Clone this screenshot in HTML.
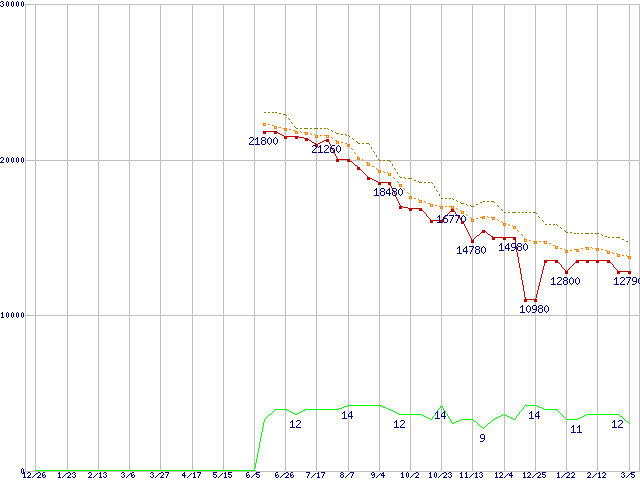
<!DOCTYPE html>
<html><head><meta charset="utf-8"><title>chart</title>
<style>html,body{margin:0;padding:0;background:#fff;overflow:hidden}svg{display:block}</style></head><body>
<svg width="640" height="480" viewBox="0 0 640 480">
<rect width="640" height="480" fill="#fff"/>
<path d="M25.5 4V472M35.5 4V472M67.5 4V472M98.5 4V472M129.5 4V472M160.5 4V472M192.5 4V472M223.5 4V472M254.5 4V472M285.5 4V472M316.5 4V472M348.5 4V472M379.5 4V472M410.5 4V472M441.5 4V472M472.5 4V472M504.5 4V472M535.5 4V472M566.5 4V472M597.5 4V472M629.5 4V472M639.5 4V472M25 4.5H640M25 160.5H640M25 315.5H640M25 471.5H640" stroke="#bfbfbf" stroke-width="1" fill="none" shape-rendering="crispEdges"/>
<path d="M1 1h2v1h-2zM0 2h1v1h-1zM3 2h1v1h-1zM2 3h1v1h-1zM3 4h1v1h-1zM0 5h1v1h-1zM3 5h1v1h-1zM1 6h2v1h-2zM7 1h1v1h-1zM6 2h1v1h-1zM8 2h1v1h-1zM6 3h1v1h-1zM8 3h1v1h-1zM6 4h1v1h-1zM8 4h1v1h-1zM6 5h1v1h-1zM8 5h1v1h-1zM7 6h1v1h-1zM12 1h1v1h-1zM11 2h1v1h-1zM13 2h1v1h-1zM11 3h1v1h-1zM13 3h1v1h-1zM11 4h1v1h-1zM13 4h1v1h-1zM11 5h1v1h-1zM13 5h1v1h-1zM12 6h1v1h-1zM17 1h1v1h-1zM16 2h1v1h-1zM18 2h1v1h-1zM16 3h1v1h-1zM18 3h1v1h-1zM16 4h1v1h-1zM18 4h1v1h-1zM16 5h1v1h-1zM18 5h1v1h-1zM17 6h1v1h-1zM22 1h1v1h-1zM21 2h1v1h-1zM23 2h1v1h-1zM21 3h1v1h-1zM23 3h1v1h-1zM21 4h1v1h-1zM23 4h1v1h-1zM21 5h1v1h-1zM23 5h1v1h-1zM22 6h1v1h-1zM1 157h2v1h-2zM0 158h1v1h-1zM3 158h1v1h-1zM3 159h1v1h-1zM2 160h1v1h-1zM1 161h1v1h-1zM0 162h4v1h-4zM7 157h1v1h-1zM6 158h1v1h-1zM8 158h1v1h-1zM6 159h1v1h-1zM8 159h1v1h-1zM6 160h1v1h-1zM8 160h1v1h-1zM6 161h1v1h-1zM8 161h1v1h-1zM7 162h1v1h-1zM12 157h1v1h-1zM11 158h1v1h-1zM13 158h1v1h-1zM11 159h1v1h-1zM13 159h1v1h-1zM11 160h1v1h-1zM13 160h1v1h-1zM11 161h1v1h-1zM13 161h1v1h-1zM12 162h1v1h-1zM17 157h1v1h-1zM16 158h1v1h-1zM18 158h1v1h-1zM16 159h1v1h-1zM18 159h1v1h-1zM16 160h1v1h-1zM18 160h1v1h-1zM16 161h1v1h-1zM18 161h1v1h-1zM17 162h1v1h-1zM22 157h1v1h-1zM21 158h1v1h-1zM23 158h1v1h-1zM21 159h1v1h-1zM23 159h1v1h-1zM21 160h1v1h-1zM23 160h1v1h-1zM21 161h1v1h-1zM23 161h1v1h-1zM22 162h1v1h-1zM2 312h1v1h-1zM1 313h2v1h-2zM2 314h1v1h-1zM2 315h1v1h-1zM2 316h1v1h-1zM1 317h3v1h-3zM7 312h1v1h-1zM6 313h1v1h-1zM8 313h1v1h-1zM6 314h1v1h-1zM8 314h1v1h-1zM6 315h1v1h-1zM8 315h1v1h-1zM6 316h1v1h-1zM8 316h1v1h-1zM7 317h1v1h-1zM12 312h1v1h-1zM11 313h1v1h-1zM13 313h1v1h-1zM11 314h1v1h-1zM13 314h1v1h-1zM11 315h1v1h-1zM13 315h1v1h-1zM11 316h1v1h-1zM13 316h1v1h-1zM12 317h1v1h-1zM17 312h1v1h-1zM16 313h1v1h-1zM18 313h1v1h-1zM16 314h1v1h-1zM18 314h1v1h-1zM16 315h1v1h-1zM18 315h1v1h-1zM16 316h1v1h-1zM18 316h1v1h-1zM17 317h1v1h-1zM22 312h1v1h-1zM21 313h1v1h-1zM23 313h1v1h-1zM21 314h1v1h-1zM23 314h1v1h-1zM21 315h1v1h-1zM23 315h1v1h-1zM21 316h1v1h-1zM23 316h1v1h-1zM22 317h1v1h-1zM22 468h1v1h-1zM21 469h1v1h-1zM23 469h1v1h-1zM21 470h1v1h-1zM23 470h1v1h-1zM21 471h1v1h-1zM23 471h1v1h-1zM21 472h1v1h-1zM23 472h1v1h-1zM22 473h1v1h-1zM24 472h1v1h-1zM23 473h2v1h-2zM24 474h1v1h-1zM24 475h1v1h-1zM24 476h1v1h-1zM23 477h3v1h-3zM28 472h2v1h-2zM27 473h1v1h-1zM30 473h1v1h-1zM30 474h1v1h-1zM29 475h1v1h-1zM28 476h1v1h-1zM27 477h4v1h-4zM36 473h1v1h-1zM35 474h1v1h-1zM34 475h1v1h-1zM33 476h1v1h-1zM32 477h1v1h-1zM38 472h2v1h-2zM37 473h1v1h-1zM40 473h1v1h-1zM40 474h1v1h-1zM39 475h1v1h-1zM38 476h1v1h-1zM37 477h4v1h-4zM43 472h2v1h-2zM42 473h1v1h-1zM42 474h1v1h-1zM44 474h1v1h-1zM42 475h2v1h-2zM45 475h1v1h-1zM42 476h1v1h-1zM45 476h1v1h-1zM43 477h2v1h-2zM59 472h1v1h-1zM58 473h2v1h-2zM59 474h1v1h-1zM59 475h1v1h-1zM59 476h1v1h-1zM58 477h3v1h-3zM66 473h1v1h-1zM65 474h1v1h-1zM64 475h1v1h-1zM63 476h1v1h-1zM62 477h1v1h-1zM68 472h2v1h-2zM67 473h1v1h-1zM70 473h1v1h-1zM70 474h1v1h-1zM69 475h1v1h-1zM68 476h1v1h-1zM67 477h4v1h-4zM73 472h2v1h-2zM72 473h1v1h-1zM75 473h1v1h-1zM74 474h1v1h-1zM75 475h1v1h-1zM72 476h1v1h-1zM75 476h1v1h-1zM73 477h2v1h-2zM89 472h2v1h-2zM88 473h1v1h-1zM91 473h1v1h-1zM91 474h1v1h-1zM90 475h1v1h-1zM89 476h1v1h-1zM88 477h4v1h-4zM97 473h1v1h-1zM96 474h1v1h-1zM95 475h1v1h-1zM94 476h1v1h-1zM93 477h1v1h-1zM100 472h1v1h-1zM99 473h2v1h-2zM100 474h1v1h-1zM100 475h1v1h-1zM100 476h1v1h-1zM99 477h3v1h-3zM104 472h2v1h-2zM103 473h1v1h-1zM106 473h1v1h-1zM105 474h1v1h-1zM106 475h1v1h-1zM103 476h1v1h-1zM106 476h1v1h-1zM104 477h2v1h-2zM122 472h2v1h-2zM121 473h1v1h-1zM124 473h1v1h-1zM123 474h1v1h-1zM124 475h1v1h-1zM121 476h1v1h-1zM124 476h1v1h-1zM122 477h2v1h-2zM130 473h1v1h-1zM129 474h1v1h-1zM128 475h1v1h-1zM127 476h1v1h-1zM126 477h1v1h-1zM132 472h2v1h-2zM131 473h1v1h-1zM131 474h1v1h-1zM133 474h1v1h-1zM131 475h2v1h-2zM134 475h1v1h-1zM131 476h1v1h-1zM134 476h1v1h-1zM132 477h2v1h-2zM151 472h2v1h-2zM150 473h1v1h-1zM153 473h1v1h-1zM152 474h1v1h-1zM153 475h1v1h-1zM150 476h1v1h-1zM153 476h1v1h-1zM151 477h2v1h-2zM159 473h1v1h-1zM158 474h1v1h-1zM157 475h1v1h-1zM156 476h1v1h-1zM155 477h1v1h-1zM161 472h2v1h-2zM160 473h1v1h-1zM163 473h1v1h-1zM163 474h1v1h-1zM162 475h1v1h-1zM161 476h1v1h-1zM160 477h4v1h-4zM165 472h4v1h-4zM168 473h1v1h-1zM167 474h1v1h-1zM167 475h1v1h-1zM166 476h1v1h-1zM166 477h1v1h-1zM184 472h1v1h-1zM183 473h2v1h-2zM182 474h1v1h-1zM184 474h1v1h-1zM182 475h4v1h-4zM184 476h1v1h-1zM184 477h1v1h-1zM191 473h1v1h-1zM190 474h1v1h-1zM189 475h1v1h-1zM188 476h1v1h-1zM187 477h1v1h-1zM194 472h1v1h-1zM193 473h2v1h-2zM194 474h1v1h-1zM194 475h1v1h-1zM194 476h1v1h-1zM193 477h3v1h-3zM197 472h4v1h-4zM200 473h1v1h-1zM199 474h1v1h-1zM199 475h1v1h-1zM198 476h1v1h-1zM198 477h1v1h-1zM213 472h4v1h-4zM213 473h1v1h-1zM213 474h3v1h-3zM216 475h1v1h-1zM213 476h1v1h-1zM216 476h1v1h-1zM214 477h2v1h-2zM222 473h1v1h-1zM221 474h1v1h-1zM220 475h1v1h-1zM219 476h1v1h-1zM218 477h1v1h-1zM225 472h1v1h-1zM224 473h2v1h-2zM225 474h1v1h-1zM225 475h1v1h-1zM225 476h1v1h-1zM224 477h3v1h-3zM228 472h4v1h-4zM228 473h1v1h-1zM228 474h3v1h-3zM231 475h1v1h-1zM228 476h1v1h-1zM231 476h1v1h-1zM229 477h2v1h-2zM247 472h2v1h-2zM246 473h1v1h-1zM246 474h1v1h-1zM248 474h1v1h-1zM246 475h2v1h-2zM249 475h1v1h-1zM246 476h1v1h-1zM249 476h1v1h-1zM247 477h2v1h-2zM255 473h1v1h-1zM254 474h1v1h-1zM253 475h1v1h-1zM252 476h1v1h-1zM251 477h1v1h-1zM256 472h4v1h-4zM256 473h1v1h-1zM256 474h3v1h-3zM259 475h1v1h-1zM256 476h1v1h-1zM259 476h1v1h-1zM257 477h2v1h-2zM276 472h2v1h-2zM275 473h1v1h-1zM275 474h1v1h-1zM277 474h1v1h-1zM275 475h2v1h-2zM278 475h1v1h-1zM275 476h1v1h-1zM278 476h1v1h-1zM276 477h2v1h-2zM284 473h1v1h-1zM283 474h1v1h-1zM282 475h1v1h-1zM281 476h1v1h-1zM280 477h1v1h-1zM286 472h2v1h-2zM285 473h1v1h-1zM288 473h1v1h-1zM288 474h1v1h-1zM287 475h1v1h-1zM286 476h1v1h-1zM285 477h4v1h-4zM291 472h2v1h-2zM290 473h1v1h-1zM290 474h1v1h-1zM292 474h1v1h-1zM290 475h2v1h-2zM293 475h1v1h-1zM290 476h1v1h-1zM293 476h1v1h-1zM291 477h2v1h-2zM306 472h4v1h-4zM309 473h1v1h-1zM308 474h1v1h-1zM308 475h1v1h-1zM307 476h1v1h-1zM307 477h1v1h-1zM315 473h1v1h-1zM314 474h1v1h-1zM313 475h1v1h-1zM312 476h1v1h-1zM311 477h1v1h-1zM318 472h1v1h-1zM317 473h2v1h-2zM318 474h1v1h-1zM318 475h1v1h-1zM318 476h1v1h-1zM317 477h3v1h-3zM321 472h4v1h-4zM324 473h1v1h-1zM323 474h1v1h-1zM323 475h1v1h-1zM322 476h1v1h-1zM322 477h1v1h-1zM341 472h2v1h-2zM340 473h1v1h-1zM343 473h1v1h-1zM341 474h2v1h-2zM340 475h1v1h-1zM343 475h1v1h-1zM340 476h1v1h-1zM343 476h1v1h-1zM341 477h2v1h-2zM349 473h1v1h-1zM348 474h1v1h-1zM347 475h1v1h-1zM346 476h1v1h-1zM345 477h1v1h-1zM350 472h4v1h-4zM353 473h1v1h-1zM352 474h1v1h-1zM352 475h1v1h-1zM351 476h1v1h-1zM351 477h1v1h-1zM372 472h2v1h-2zM371 473h1v1h-1zM374 473h1v1h-1zM371 474h1v1h-1zM373 474h2v1h-2zM372 475h1v1h-1zM374 475h1v1h-1zM374 476h1v1h-1zM372 477h2v1h-2zM380 473h1v1h-1zM379 474h1v1h-1zM378 475h1v1h-1zM377 476h1v1h-1zM376 477h1v1h-1zM383 472h1v1h-1zM382 473h2v1h-2zM381 474h1v1h-1zM383 474h1v1h-1zM381 475h4v1h-4zM383 476h1v1h-1zM383 477h1v1h-1zM402 472h1v1h-1zM401 473h2v1h-2zM402 474h1v1h-1zM402 475h1v1h-1zM402 476h1v1h-1zM401 477h3v1h-3zM407 472h1v1h-1zM406 473h1v1h-1zM408 473h1v1h-1zM406 474h1v1h-1zM408 474h1v1h-1zM406 475h1v1h-1zM408 475h1v1h-1zM406 476h1v1h-1zM408 476h1v1h-1zM407 477h1v1h-1zM414 473h1v1h-1zM413 474h1v1h-1zM412 475h1v1h-1zM411 476h1v1h-1zM410 477h1v1h-1zM416 472h2v1h-2zM415 473h1v1h-1zM418 473h1v1h-1zM418 474h1v1h-1zM417 475h1v1h-1zM416 476h1v1h-1zM415 477h4v1h-4zM430 472h1v1h-1zM429 473h2v1h-2zM430 474h1v1h-1zM430 475h1v1h-1zM430 476h1v1h-1zM429 477h3v1h-3zM435 472h1v1h-1zM434 473h1v1h-1zM436 473h1v1h-1zM434 474h1v1h-1zM436 474h1v1h-1zM434 475h1v1h-1zM436 475h1v1h-1zM434 476h1v1h-1zM436 476h1v1h-1zM435 477h1v1h-1zM442 473h1v1h-1zM441 474h1v1h-1zM440 475h1v1h-1zM439 476h1v1h-1zM438 477h1v1h-1zM444 472h2v1h-2zM443 473h1v1h-1zM446 473h1v1h-1zM446 474h1v1h-1zM445 475h1v1h-1zM444 476h1v1h-1zM443 477h4v1h-4zM449 472h2v1h-2zM448 473h1v1h-1zM451 473h1v1h-1zM450 474h1v1h-1zM451 475h1v1h-1zM448 476h1v1h-1zM451 476h1v1h-1zM449 477h2v1h-2zM461 472h1v1h-1zM460 473h2v1h-2zM461 474h1v1h-1zM461 475h1v1h-1zM461 476h1v1h-1zM460 477h3v1h-3zM466 472h1v1h-1zM465 473h2v1h-2zM466 474h1v1h-1zM466 475h1v1h-1zM466 476h1v1h-1zM465 477h3v1h-3zM473 473h1v1h-1zM472 474h1v1h-1zM471 475h1v1h-1zM470 476h1v1h-1zM469 477h1v1h-1zM476 472h1v1h-1zM475 473h2v1h-2zM476 474h1v1h-1zM476 475h1v1h-1zM476 476h1v1h-1zM475 477h3v1h-3zM480 472h2v1h-2zM479 473h1v1h-1zM482 473h1v1h-1zM481 474h1v1h-1zM482 475h1v1h-1zM479 476h1v1h-1zM482 476h1v1h-1zM480 477h2v1h-2zM496 472h1v1h-1zM495 473h2v1h-2zM496 474h1v1h-1zM496 475h1v1h-1zM496 476h1v1h-1zM495 477h3v1h-3zM500 472h2v1h-2zM499 473h1v1h-1zM502 473h1v1h-1zM502 474h1v1h-1zM501 475h1v1h-1zM500 476h1v1h-1zM499 477h4v1h-4zM508 473h1v1h-1zM507 474h1v1h-1zM506 475h1v1h-1zM505 476h1v1h-1zM504 477h1v1h-1zM511 472h1v1h-1zM510 473h2v1h-2zM509 474h1v1h-1zM511 474h1v1h-1zM509 475h4v1h-4zM511 476h1v1h-1zM511 477h1v1h-1zM524 472h1v1h-1zM523 473h2v1h-2zM524 474h1v1h-1zM524 475h1v1h-1zM524 476h1v1h-1zM523 477h3v1h-3zM528 472h2v1h-2zM527 473h1v1h-1zM530 473h1v1h-1zM530 474h1v1h-1zM529 475h1v1h-1zM528 476h1v1h-1zM527 477h4v1h-4zM536 473h1v1h-1zM535 474h1v1h-1zM534 475h1v1h-1zM533 476h1v1h-1zM532 477h1v1h-1zM538 472h2v1h-2zM537 473h1v1h-1zM540 473h1v1h-1zM540 474h1v1h-1zM539 475h1v1h-1zM538 476h1v1h-1zM537 477h4v1h-4zM542 472h4v1h-4zM542 473h1v1h-1zM542 474h3v1h-3zM545 475h1v1h-1zM542 476h1v1h-1zM545 476h1v1h-1zM543 477h2v1h-2zM558 472h1v1h-1zM557 473h2v1h-2zM558 474h1v1h-1zM558 475h1v1h-1zM558 476h1v1h-1zM557 477h3v1h-3zM565 473h1v1h-1zM564 474h1v1h-1zM563 475h1v1h-1zM562 476h1v1h-1zM561 477h1v1h-1zM567 472h2v1h-2zM566 473h1v1h-1zM569 473h1v1h-1zM569 474h1v1h-1zM568 475h1v1h-1zM567 476h1v1h-1zM566 477h4v1h-4zM572 472h2v1h-2zM571 473h1v1h-1zM574 473h1v1h-1zM574 474h1v1h-1zM573 475h1v1h-1zM572 476h1v1h-1zM571 477h4v1h-4zM588 472h2v1h-2zM587 473h1v1h-1zM590 473h1v1h-1zM590 474h1v1h-1zM589 475h1v1h-1zM588 476h1v1h-1zM587 477h4v1h-4zM596 473h1v1h-1zM595 474h1v1h-1zM594 475h1v1h-1zM593 476h1v1h-1zM592 477h1v1h-1zM599 472h1v1h-1zM598 473h2v1h-2zM599 474h1v1h-1zM599 475h1v1h-1zM599 476h1v1h-1zM598 477h3v1h-3zM603 472h2v1h-2zM602 473h1v1h-1zM605 473h1v1h-1zM605 474h1v1h-1zM604 475h1v1h-1zM603 476h1v1h-1zM602 477h4v1h-4zM622 472h2v1h-2zM621 473h1v1h-1zM624 473h1v1h-1zM623 474h1v1h-1zM624 475h1v1h-1zM621 476h1v1h-1zM624 476h1v1h-1zM622 477h2v1h-2zM630 473h1v1h-1zM629 474h1v1h-1zM628 475h1v1h-1zM627 476h1v1h-1zM626 477h1v1h-1zM631 472h4v1h-4zM631 473h1v1h-1zM631 474h3v1h-3zM634 475h1v1h-1zM631 476h1v1h-1zM634 476h1v1h-1zM632 477h2v1h-2z" fill="#00007f" shape-rendering="crispEdges"/>
<path d="M264 112h2v1h-2zM268 112h2v1h-2zM272 112h2v1h-2zM275 112h2v1h-2zM279 113h2v1h-2zM283 114h3v1h-3zM286 115h1v1h-1zM288 118h1v1h-1zM289 119h1v1h-1zM291 122h1v1h-1zM292 123h1v1h-1zM294 126h1v1h-1zM295 127h1v1h-1zM296 128h2v1h-2zM300 128h2v1h-2zM304 128h4v1h-4zM310 128h2v1h-2zM314 128h4v1h-4zM320 128h2v1h-2zM324 128h2v1h-2zM327 128h1v1h-1zM328 129h1v1h-1zM331 130h1v1h-1zM332 131h1v1h-1zM335 132h1v1h-1zM336 133h3v1h-3zM341 134h2v1h-2zM345 134h1v1h-1zM346 135h1v1h-1zM348 135h1v1h-1zM349 136h1v1h-1zM352 138h1v1h-1zM353 139h1v1h-1zM356 141h1v1h-1zM357 142h1v1h-1zM358 143h2v1h-2zM362 143h2v1h-2zM366 143h3v1h-3zM369 144h1v1h-1zM371 147h1v1h-1zM371 148h1v1h-1zM373 151h1v1h-1zM374 152h1v1h-1zM376 155h1v1h-1zM376 156h1v1h-1zM378 159h1v1h-1zM379 160h2v1h-2zM383 160h2v1h-2zM387 160h3v1h-3zM390 161h1v1h-1zM392 164h1v1h-1zM392 165h1v1h-1zM394 168h1v1h-1zM395 169h1v1h-1zM397 172h1v1h-1zM397 173h1v1h-1zM399 176h1v1h-1zM400 177h2v1h-2zM404 177h1v1h-1zM405 178h1v1h-1zM408 178h4v1h-4zM414 180h2v1h-2zM418 181h1v1h-1zM419 182h3v1h-3zM424 182h2v1h-2zM428 182h2v1h-2zM431 182h1v1h-1zM432 183h1v1h-1zM434 186h1v1h-1zM434 187h1v1h-1zM436 190h1v1h-1zM437 191h1v1h-1zM439 194h1v1h-1zM439 195h1v1h-1zM441 198h2v1h-2zM445 198h2v1h-2zM449 198h2v1h-2zM452 198h1v1h-1zM453 199h1v1h-1zM456 200h1v1h-1zM457 201h1v1h-1zM483 201h2v1h-2zM487 201h2v1h-2zM491 201h3v1h-3zM460 202h1v1h-1zM480 202h2v1h-2zM494 202h1v1h-1zM461 203h3v1h-3zM466 204h1v1h-1zM476 204h2v1h-2zM467 205h1v1h-1zM470 205h1v1h-1zM497 205h1v1h-1zM471 206h3v1h-3zM498 206h1v1h-1zM501 209h1v1h-1zM502 210h1v1h-1zM504 212h2v1h-2zM508 212h2v1h-2zM512 212h4v1h-4zM518 212h2v1h-2zM522 212h2v1h-2zM525 212h2v1h-2zM529 212h2v1h-2zM533 212h3v1h-3zM536 213h1v1h-1zM538 216h1v1h-1zM539 217h1v1h-1zM542 220h1v1h-1zM543 221h1v1h-1zM545 224h2v1h-2zM549 224h2v1h-2zM553 224h2v1h-2zM556 224h1v1h-1zM557 225h1v1h-1zM560 227h1v1h-1zM561 228h1v1h-1zM564 230h1v1h-1zM565 231h1v1h-1zM566 232h2v1h-2zM570 232h2v1h-2zM574 233h2v1h-2zM577 233h2v1h-2zM581 233h2v1h-2zM585 233h4v1h-4zM591 233h2v1h-2zM595 233h4v1h-4zM601 234h1v1h-1zM602 235h1v1h-1zM605 236h2v1h-2zM608 237h2v1h-2zM612 237h2v1h-2zM616 237h4v1h-4zM622 239h2v1h-2zM626 241h2v1h-2z" fill="#7f7f00" shape-rendering="crispEdges"/>
<path d="M263 123h3v1h-3zM263 124h1v1h-1zM265 124h1v1h-1zM268 124h2v1h-2zM263 125h3v1h-3zM272 125h2v1h-2zM274 126h3v1h-3zM274 127h1v1h-1zM276 127h1v1h-1zM279 127h2v1h-2zM274 128h3v1h-3zM283 128h4v1h-4zM284 129h1v1h-1zM286 129h1v1h-1zM289 129h2v1h-2zM284 130h3v1h-3zM293 130h2v1h-2zM295 131h3v1h-3zM300 131h1v1h-1zM295 132h1v1h-1zM297 132h1v1h-1zM301 132h1v1h-1zM304 132h4v1h-4zM295 133h3v1h-3zM305 133h1v1h-1zM307 133h1v1h-1zM310 133h1v1h-1zM305 134h3v1h-3zM311 134h1v1h-1zM314 134h1v1h-1zM315 135h3v1h-3zM320 135h2v1h-2zM324 135h5v1h-5zM315 136h1v1h-1zM317 136h1v1h-1zM326 136h1v1h-1zM328 136h1v1h-1zM315 137h3v1h-3zM326 137h3v1h-3zM331 137h1v1h-1zM332 138h1v1h-1zM335 140h2v1h-2zM336 141h3v1h-3zM336 142h1v1h-1zM338 142h1v1h-1zM341 142h2v1h-2zM336 143h3v1h-3zM345 143h2v1h-2zM347 144h3v1h-3zM347 145h1v1h-1zM349 145h1v1h-1zM347 146h3v1h-3zM351 148h1v1h-1zM352 149h1v1h-1zM354 152h1v1h-1zM355 153h1v1h-1zM357 156h1v1h-1zM357 157h3v1h-3zM357 158h1v1h-1zM359 158h1v1h-1zM357 159h3v1h-3zM362 159h1v1h-1zM363 160h1v1h-1zM366 162h2v1h-2zM367 163h3v1h-3zM367 164h1v1h-1zM369 164h1v1h-1zM367 165h3v1h-3zM372 166h2v1h-2zM376 168h1v1h-1zM377 169h1v1h-1zM378 170h3v1h-3zM378 171h1v1h-1zM380 171h1v1h-1zM383 171h1v1h-1zM378 172h3v1h-3zM384 172h1v1h-1zM387 172h1v1h-1zM388 173h3v1h-3zM388 174h1v1h-1zM390 174h1v1h-1zM388 175h3v1h-3zM393 177h1v1h-1zM394 178h1v1h-1zM397 181h1v1h-1zM398 182h1v1h-1zM399 184h3v1h-3zM399 185h1v1h-1zM401 185h1v1h-1zM399 186h3v1h-3zM403 188h1v1h-1zM404 189h1v1h-1zM407 192h1v1h-1zM408 193h1v1h-1zM409 196h3v1h-3zM409 197h1v1h-1zM411 197h1v1h-1zM409 198h3v1h-3zM414 198h2v1h-2zM418 199h1v1h-1zM419 200h3v1h-3zM419 201h1v1h-1zM421 201h1v1h-1zM424 201h1v1h-1zM419 202h3v1h-3zM425 202h1v1h-1zM428 203h2v1h-2zM430 204h3v1h-3zM430 205h1v1h-1zM432 205h1v1h-1zM435 205h2v1h-2zM430 206h3v1h-3zM439 206h4v1h-4zM445 206h2v1h-2zM449 206h5v1h-5zM440 207h1v1h-1zM442 207h1v1h-1zM451 207h1v1h-1zM453 207h1v1h-1zM440 208h3v1h-3zM451 208h3v1h-3zM456 208h1v1h-1zM457 209h1v1h-1zM460 210h1v1h-1zM461 211h3v1h-3zM461 212h1v1h-1zM463 212h1v1h-1zM461 213h3v1h-3zM466 214h1v1h-1zM467 215h1v1h-1zM482 216h3v1h-3zM487 216h1v1h-1zM470 217h1v1h-1zM480 217h3v1h-3zM484 217h1v1h-1zM488 217h1v1h-1zM491 217h4v1h-4zM471 218h1v1h-1zM476 218h2v1h-2zM482 218h3v1h-3zM492 218h1v1h-1zM494 218h1v1h-1zM471 219h3v1h-3zM492 219h3v1h-3zM497 219h1v1h-1zM471 220h1v1h-1zM473 220h1v1h-1zM498 220h1v1h-1zM471 221h3v1h-3zM501 221h1v1h-1zM502 222h1v1h-1zM503 223h3v1h-3zM503 224h1v1h-1zM505 224h1v1h-1zM508 224h1v1h-1zM503 225h3v1h-3zM509 225h1v1h-1zM512 225h1v1h-1zM513 226h3v1h-3zM513 227h1v1h-1zM515 227h1v1h-1zM513 228h3v1h-3zM517 230h1v1h-1zM518 231h1v1h-1zM521 234h1v1h-1zM522 235h1v1h-1zM524 238h1v1h-1zM524 239h3v1h-3zM524 240h1v1h-1zM526 240h1v1h-1zM529 240h2v1h-2zM524 241h3v1h-3zM533 241h4v1h-4zM539 241h2v1h-2zM543 241h4v1h-4zM534 242h1v1h-1zM536 242h1v1h-1zM544 242h1v1h-1zM546 242h1v1h-1zM534 243h3v1h-3zM544 243h3v1h-3zM549 243h2v1h-2zM553 245h2v1h-2zM555 246h3v1h-3zM555 247h1v1h-1zM557 247h1v1h-1zM585 247h4v1h-4zM591 247h1v1h-1zM555 248h3v1h-3zM560 248h2v1h-2zM581 248h2v1h-2zM586 248h1v1h-1zM588 248h1v1h-1zM592 248h1v1h-1zM595 248h4v1h-4zM564 249h1v1h-1zM574 249h5v1h-5zM586 249h3v1h-3zM596 249h1v1h-1zM598 249h1v1h-1zM601 249h2v1h-2zM565 250h3v1h-3zM570 250h2v1h-2zM576 250h1v1h-1zM578 250h1v1h-1zM596 250h3v1h-3zM605 250h2v1h-2zM565 251h1v1h-1zM567 251h1v1h-1zM576 251h3v1h-3zM607 251h3v1h-3zM565 252h3v1h-3zM607 252h1v1h-1zM609 252h1v1h-1zM612 252h1v1h-1zM607 253h3v1h-3zM613 253h1v1h-1zM616 253h1v1h-1zM617 254h3v1h-3zM617 255h1v1h-1zM619 255h1v1h-1zM622 255h2v1h-2zM626 255h1v1h-1zM617 256h3v1h-3zM627 256h4v1h-4zM628 257h1v1h-1zM630 257h1v1h-1zM628 258h3v1h-3z" fill="#ff7f00" shape-rendering="crispEdges"/>
<path d="M263 131h14v1h-14zM263 132h3v1h-3zM274 132h4v1h-4zM263 133h3v1h-3zM274 133h3v1h-3zM278 133h2v1h-2zM280 134h2v1h-2zM282 135h2v1h-2zM284 136h15v1h-15zM284 137h3v1h-3zM295 137h3v1h-3zM299 137h5v1h-5zM284 138h3v1h-3zM295 138h3v1h-3zM304 138h4v1h-4zM305 139h4v1h-4zM326 139h3v1h-3zM305 140h3v1h-3zM309 140h2v1h-2zM324 140h5v1h-5zM311 141h1v1h-1zM322 141h2v1h-2zM326 141h3v1h-3zM312 142h2v1h-2zM320 142h2v1h-2zM329 142h1v1h-1zM314 143h2v1h-2zM318 143h2v1h-2zM329 143h1v1h-1zM315 144h3v1h-3zM330 144h1v1h-1zM315 145h3v1h-3zM330 145h1v1h-1zM315 146h3v1h-3zM331 146h1v1h-1zM331 147h1v1h-1zM332 148h1v1h-1zM332 149h1v1h-1zM333 150h1v1h-1zM333 151h1v1h-1zM334 152h1v1h-1zM334 153h1v1h-1zM335 154h1v1h-1zM335 155h1v1h-1zM336 156h1v1h-1zM336 157h1v1h-1zM337 158h1v1h-1zM336 159h14v1h-14zM336 160h3v1h-3zM347 160h3v1h-3zM336 161h3v1h-3zM347 161h5v1h-5zM352 162h1v1h-1zM353 163h1v1h-1zM354 164h1v1h-1zM355 165h2v1h-2zM357 166h1v1h-1zM357 167h3v1h-3zM357 168h3v1h-3zM357 169h4v1h-4zM361 170h1v1h-1zM362 171h1v1h-1zM363 172h1v1h-1zM364 173h1v1h-1zM365 174h1v1h-1zM366 175h1v1h-1zM367 176h1v1h-1zM367 177h3v1h-3zM367 178h5v1h-5zM367 179h3v1h-3zM372 179h2v1h-2zM374 180h2v1h-2zM376 181h2v1h-2zM378 182h13v1h-13zM378 183h3v1h-3zM388 183h3v1h-3zM378 184h3v1h-3zM388 184h3v1h-3zM390 185h1v1h-1zM391 186h1v1h-1zM391 187h1v1h-1zM392 188h1v1h-1zM392 189h1v1h-1zM393 190h1v1h-1zM393 191h1v1h-1zM394 192h1v1h-1zM394 193h1v1h-1zM395 194h1v1h-1zM395 195h1v1h-1zM395 196h1v1h-1zM396 197h1v1h-1zM396 198h1v1h-1zM397 199h1v1h-1zM397 200h1v1h-1zM398 201h1v1h-1zM398 202h1v1h-1zM399 203h1v1h-1zM399 204h1v1h-1zM400 205h1v1h-1zM399 206h4v1h-4zM399 207h3v1h-3zM403 207h5v1h-5zM399 208h3v1h-3zM408 208h14v1h-14zM409 209h3v1h-3zM419 209h3v1h-3zM451 209h3v1h-3zM409 210h3v1h-3zM419 210h4v1h-4zM451 210h3v1h-3zM423 211h1v1h-1zM450 211h5v1h-5zM424 212h1v1h-1zM449 212h1v1h-1zM455 212h1v1h-1zM425 213h1v1h-1zM448 213h1v1h-1zM455 213h1v1h-1zM426 214h1v1h-1zM447 214h1v1h-1zM456 214h1v1h-1zM426 215h1v1h-1zM446 215h1v1h-1zM457 215h1v1h-1zM427 216h1v1h-1zM445 216h1v1h-1zM458 216h1v1h-1zM428 217h1v1h-1zM444 217h1v1h-1zM459 217h1v1h-1zM429 218h1v1h-1zM443 218h1v1h-1zM460 218h1v1h-1zM430 219h1v1h-1zM442 219h1v1h-1zM460 219h1v1h-1zM430 220h13v1h-13zM461 220h1v1h-1zM430 221h3v1h-3zM440 221h3v1h-3zM461 221h3v1h-3zM430 222h3v1h-3zM440 222h3v1h-3zM461 222h3v1h-3zM461 223h3v1h-3zM464 224h1v1h-1zM464 225h1v1h-1zM465 226h1v1h-1zM465 227h1v1h-1zM466 228h1v1h-1zM466 229h1v1h-1zM467 230h1v1h-1zM482 230h3v1h-3zM467 231h1v1h-1zM482 231h4v1h-4zM468 232h1v1h-1zM481 232h4v1h-4zM486 232h1v1h-1zM468 233h1v1h-1zM480 233h1v1h-1zM487 233h1v1h-1zM469 234h1v1h-1zM479 234h1v1h-1zM488 234h2v1h-2zM469 235h1v1h-1zM477 235h2v1h-2zM490 235h1v1h-1zM470 236h1v1h-1zM476 236h1v1h-1zM491 236h2v1h-2zM470 237h1v1h-1zM475 237h1v1h-1zM492 237h24v1h-24zM471 238h1v1h-1zM474 238h1v1h-1zM492 238h3v1h-3zM503 238h3v1h-3zM513 238h3v1h-3zM471 239h1v1h-1zM473 239h1v1h-1zM492 239h3v1h-3zM503 239h3v1h-3zM513 239h3v1h-3zM471 240h3v1h-3zM515 240h1v1h-1zM471 241h3v1h-3zM515 241h1v1h-1zM471 242h3v1h-3zM515 242h1v1h-1zM515 243h1v1h-1zM515 244h1v1h-1zM515 245h1v1h-1zM516 246h1v1h-1zM516 247h1v1h-1zM516 248h1v1h-1zM516 249h1v1h-1zM516 250h1v1h-1zM516 251h1v1h-1zM517 252h1v1h-1zM517 253h1v1h-1zM517 254h1v1h-1zM517 255h1v1h-1zM517 256h1v1h-1zM518 257h1v1h-1zM518 258h1v1h-1zM518 259h1v1h-1zM518 260h1v1h-1zM544 260h14v1h-14zM576 260h34v1h-34zM518 261h1v1h-1zM544 261h3v1h-3zM555 261h3v1h-3zM576 261h3v1h-3zM586 261h3v1h-3zM596 261h3v1h-3zM607 261h3v1h-3zM518 262h1v1h-1zM544 262h3v1h-3zM555 262h4v1h-4zM575 262h4v1h-4zM586 262h3v1h-3zM596 262h3v1h-3zM607 262h4v1h-4zM519 263h1v1h-1zM544 263h1v1h-1zM559 263h1v1h-1zM574 263h1v1h-1zM611 263h1v1h-1zM519 264h1v1h-1zM544 264h1v1h-1zM560 264h1v1h-1zM573 264h1v1h-1zM612 264h1v1h-1zM519 265h1v1h-1zM544 265h1v1h-1zM561 265h1v1h-1zM572 265h1v1h-1zM613 265h1v1h-1zM519 266h1v1h-1zM543 266h1v1h-1zM561 266h1v1h-1zM571 266h1v1h-1zM613 266h1v1h-1zM519 267h1v1h-1zM543 267h1v1h-1zM562 267h1v1h-1zM570 267h1v1h-1zM614 267h1v1h-1zM520 268h1v1h-1zM543 268h1v1h-1zM563 268h1v1h-1zM569 268h1v1h-1zM615 268h1v1h-1zM520 269h1v1h-1zM543 269h1v1h-1zM564 269h1v1h-1zM568 269h1v1h-1zM616 269h1v1h-1zM520 270h1v1h-1zM542 270h1v1h-1zM565 270h1v1h-1zM567 270h1v1h-1zM617 270h1v1h-1zM520 271h1v1h-1zM542 271h1v1h-1zM565 271h3v1h-3zM617 271h14v1h-14zM520 272h1v1h-1zM542 272h1v1h-1zM565 272h3v1h-3zM617 272h3v1h-3zM628 272h3v1h-3zM520 273h1v1h-1zM542 273h1v1h-1zM565 273h3v1h-3zM617 273h3v1h-3zM628 273h3v1h-3zM521 274h1v1h-1zM541 274h1v1h-1zM521 275h1v1h-1zM541 275h1v1h-1zM521 276h1v1h-1zM541 276h1v1h-1zM521 277h1v1h-1zM541 277h1v1h-1zM521 278h1v1h-1zM540 278h1v1h-1zM521 279h1v1h-1zM540 279h1v1h-1zM522 280h1v1h-1zM540 280h1v1h-1zM522 281h1v1h-1zM540 281h1v1h-1zM522 282h1v1h-1zM539 282h1v1h-1zM522 283h1v1h-1zM539 283h1v1h-1zM522 284h1v1h-1zM539 284h1v1h-1zM523 285h1v1h-1zM539 285h1v1h-1zM523 286h1v1h-1zM538 286h1v1h-1zM523 287h1v1h-1zM538 287h1v1h-1zM523 288h1v1h-1zM538 288h1v1h-1zM523 289h1v1h-1zM538 289h1v1h-1zM523 290h1v1h-1zM537 290h1v1h-1zM524 291h1v1h-1zM537 291h1v1h-1zM524 292h1v1h-1zM537 292h1v1h-1zM524 293h1v1h-1zM537 293h1v1h-1zM524 294h1v1h-1zM536 294h1v1h-1zM524 295h1v1h-1zM536 295h1v1h-1zM524 296h1v1h-1zM536 296h1v1h-1zM525 297h1v1h-1zM536 297h1v1h-1zM525 298h1v1h-1zM535 298h1v1h-1zM524 299h13v1h-13zM524 300h3v1h-3zM534 300h3v1h-3zM524 301h3v1h-3zM534 301h3v1h-3z" fill="#bf0000" shape-rendering="crispEdges"/>
<path d="M347 405h34v1h-34zM441 405h1v1h-1zM525 405h12v1h-12zM344 406h3v1h-3zM381 406h2v1h-2zM440 406h1v1h-1zM442 406h1v1h-1zM524 406h1v1h-1zM537 406h2v1h-2zM342 407h2v1h-2zM383 407h3v1h-3zM440 407h1v1h-1zM442 407h1v1h-1zM523 407h1v1h-1zM539 407h3v1h-3zM339 408h3v1h-3zM386 408h2v1h-2zM439 408h1v1h-1zM443 408h1v1h-1zM523 408h1v1h-1zM542 408h2v1h-2zM275 409h12v1h-12zM305 409h34v1h-34zM388 409h3v1h-3zM438 409h1v1h-1zM443 409h1v1h-1zM522 409h1v1h-1zM544 409h13v1h-13zM274 410h1v1h-1zM287 410h2v1h-2zM303 410h2v1h-2zM391 410h2v1h-2zM437 410h1v1h-1zM444 410h1v1h-1zM521 410h1v1h-1zM557 410h1v1h-1zM273 411h1v1h-1zM289 411h2v1h-2zM301 411h2v1h-2zM393 411h2v1h-2zM437 411h1v1h-1zM445 411h1v1h-1zM520 411h1v1h-1zM558 411h1v1h-1zM272 412h1v1h-1zM291 412h2v1h-2zM299 412h2v1h-2zM395 412h2v1h-2zM436 412h1v1h-1zM445 412h1v1h-1zM519 412h1v1h-1zM559 412h1v1h-1zM271 413h1v1h-1zM293 413h2v1h-2zM297 413h2v1h-2zM397 413h2v1h-2zM435 413h1v1h-1zM446 413h1v1h-1zM519 413h1v1h-1zM560 413h1v1h-1zM269 414h2v1h-2zM295 414h2v1h-2zM399 414h23v1h-23zM435 414h1v1h-1zM447 414h1v1h-1zM503 414h2v1h-2zM518 414h1v1h-1zM561 414h1v1h-1zM586 414h33v1h-33zM268 415h1v1h-1zM422 415h2v1h-2zM434 415h1v1h-1zM447 415h1v1h-1zM501 415h2v1h-2zM505 415h2v1h-2zM517 415h1v1h-1zM562 415h1v1h-1zM584 415h2v1h-2zM619 415h1v1h-1zM267 416h1v1h-1zM424 416h2v1h-2zM433 416h1v1h-1zM448 416h1v1h-1zM499 416h2v1h-2zM507 416h2v1h-2zM516 416h1v1h-1zM563 416h1v1h-1zM582 416h2v1h-2zM620 416h2v1h-2zM266 417h1v1h-1zM426 417h2v1h-2zM432 417h1v1h-1zM448 417h1v1h-1zM497 417h2v1h-2zM509 417h2v1h-2zM516 417h1v1h-1zM564 417h1v1h-1zM580 417h2v1h-2zM622 417h1v1h-1zM265 418h1v1h-1zM428 418h2v1h-2zM432 418h1v1h-1zM449 418h1v1h-1zM495 418h2v1h-2zM511 418h2v1h-2zM515 418h1v1h-1zM565 418h1v1h-1zM578 418h2v1h-2zM623 418h1v1h-1zM264 419h1v1h-1zM430 419h2v1h-2zM450 419h1v1h-1zM461 419h12v1h-12zM493 419h2v1h-2zM513 419h2v1h-2zM566 419h12v1h-12zM624 419h1v1h-1zM264 420h1v1h-1zM450 420h1v1h-1zM459 420h2v1h-2zM473 420h1v1h-1zM492 420h1v1h-1zM625 420h1v1h-1zM264 421h1v1h-1zM451 421h1v1h-1zM456 421h3v1h-3zM474 421h2v1h-2zM491 421h1v1h-1zM626 421h2v1h-2zM263 422h1v1h-1zM451 422h1v1h-1zM454 422h2v1h-2zM476 422h1v1h-1zM490 422h1v1h-1zM628 422h1v1h-1zM263 423h1v1h-1zM452 423h2v1h-2zM477 423h1v1h-1zM488 423h2v1h-2zM629 423h1v1h-1zM263 424h1v1h-1zM478 424h1v1h-1zM487 424h1v1h-1zM263 425h1v1h-1zM479 425h1v1h-1zM486 425h1v1h-1zM263 426h1v1h-1zM480 426h2v1h-2zM485 426h1v1h-1zM262 427h1v1h-1zM482 427h1v1h-1zM484 427h1v1h-1zM262 428h1v1h-1zM483 428h1v1h-1zM262 429h1v1h-1zM262 430h1v1h-1zM262 431h1v1h-1zM261 432h1v1h-1zM261 433h1v1h-1zM261 434h1v1h-1zM261 435h1v1h-1zM261 436h1v1h-1zM260 437h1v1h-1zM260 438h1v1h-1zM260 439h1v1h-1zM260 440h1v1h-1zM260 441h1v1h-1zM259 442h1v1h-1zM259 443h1v1h-1zM259 444h1v1h-1zM259 445h1v1h-1zM259 446h1v1h-1zM259 447h1v1h-1zM258 448h1v1h-1zM258 449h1v1h-1zM258 450h1v1h-1zM258 451h1v1h-1zM258 452h1v1h-1zM257 453h1v1h-1zM257 454h1v1h-1zM257 455h1v1h-1zM257 456h1v1h-1zM257 457h1v1h-1zM256 458h1v1h-1zM256 459h1v1h-1zM256 460h1v1h-1zM256 461h1v1h-1zM256 462h1v1h-1zM255 463h1v1h-1zM255 464h1v1h-1zM255 465h1v1h-1zM255 466h1v1h-1zM255 467h1v1h-1zM254 468h1v1h-1zM254 469h1v1h-1zM35 470h220v1h-220z" fill="#00ff00" shape-rendering="crispEdges"/>
<path d="M250 137h3v1h-3zM257 137h1v1h-1zM262 137h3v1h-3zM269 137h1v1h-1zM275 137h1v1h-1zM249 138h1v1h-1zM253 138h1v1h-1zM256 138h2v1h-2zM261 138h1v1h-1zM265 138h1v1h-1zM268 138h1v1h-1zM270 138h1v1h-1zM274 138h1v1h-1zM276 138h1v1h-1zM253 139h1v1h-1zM255 139h1v1h-1zM257 139h1v1h-1zM261 139h1v1h-1zM265 139h1v1h-1zM267 139h1v1h-1zM271 139h1v1h-1zM273 139h1v1h-1zM277 139h1v1h-1zM252 140h1v1h-1zM257 140h1v1h-1zM262 140h3v1h-3zM267 140h1v1h-1zM271 140h1v1h-1zM273 140h1v1h-1zM277 140h1v1h-1zM251 141h1v1h-1zM257 141h1v1h-1zM261 141h1v1h-1zM265 141h1v1h-1zM267 141h1v1h-1zM271 141h1v1h-1zM273 141h1v1h-1zM277 141h1v1h-1zM250 142h1v1h-1zM257 142h1v1h-1zM261 142h1v1h-1zM265 142h1v1h-1zM267 142h1v1h-1zM271 142h1v1h-1zM273 142h1v1h-1zM277 142h1v1h-1zM249 143h1v1h-1zM257 143h1v1h-1zM261 143h1v1h-1zM265 143h1v1h-1zM268 143h1v1h-1zM270 143h1v1h-1zM274 143h1v1h-1zM276 143h1v1h-1zM249 144h5v1h-5zM255 144h5v1h-5zM262 144h3v1h-3zM269 144h1v1h-1zM275 144h1v1h-1zM313 145h3v1h-3zM320 145h1v1h-1zM325 145h3v1h-3zM332 145h3v1h-3zM338 145h1v1h-1zM312 146h1v1h-1zM316 146h1v1h-1zM319 146h2v1h-2zM324 146h1v1h-1zM328 146h1v1h-1zM331 146h1v1h-1zM337 146h1v1h-1zM339 146h1v1h-1zM316 147h1v1h-1zM318 147h1v1h-1zM320 147h1v1h-1zM328 147h1v1h-1zM330 147h1v1h-1zM336 147h1v1h-1zM340 147h1v1h-1zM315 148h1v1h-1zM320 148h1v1h-1zM327 148h1v1h-1zM330 148h4v1h-4zM336 148h1v1h-1zM340 148h1v1h-1zM314 149h1v1h-1zM320 149h1v1h-1zM326 149h1v1h-1zM330 149h1v1h-1zM334 149h1v1h-1zM336 149h1v1h-1zM340 149h1v1h-1zM313 150h1v1h-1zM320 150h1v1h-1zM325 150h1v1h-1zM330 150h1v1h-1zM334 150h1v1h-1zM336 150h1v1h-1zM340 150h1v1h-1zM312 151h1v1h-1zM320 151h1v1h-1zM324 151h1v1h-1zM330 151h1v1h-1zM334 151h1v1h-1zM337 151h1v1h-1zM339 151h1v1h-1zM312 152h5v1h-5zM318 152h5v1h-5zM324 152h5v1h-5zM331 152h3v1h-3zM338 152h1v1h-1zM376 188h1v1h-1zM381 188h3v1h-3zM389 188h1v1h-1zM393 188h3v1h-3zM400 188h1v1h-1zM375 189h2v1h-2zM380 189h1v1h-1zM384 189h1v1h-1zM388 189h2v1h-2zM392 189h1v1h-1zM396 189h1v1h-1zM399 189h1v1h-1zM401 189h1v1h-1zM374 190h1v1h-1zM376 190h1v1h-1zM380 190h1v1h-1zM384 190h1v1h-1zM387 190h1v1h-1zM389 190h1v1h-1zM392 190h1v1h-1zM396 190h1v1h-1zM398 190h1v1h-1zM402 190h1v1h-1zM376 191h1v1h-1zM381 191h3v1h-3zM386 191h1v1h-1zM389 191h1v1h-1zM393 191h3v1h-3zM398 191h1v1h-1zM402 191h1v1h-1zM376 192h1v1h-1zM380 192h1v1h-1zM384 192h1v1h-1zM386 192h1v1h-1zM389 192h1v1h-1zM392 192h1v1h-1zM396 192h1v1h-1zM398 192h1v1h-1zM402 192h1v1h-1zM376 193h1v1h-1zM380 193h1v1h-1zM384 193h1v1h-1zM386 193h5v1h-5zM392 193h1v1h-1zM396 193h1v1h-1zM398 193h1v1h-1zM402 193h1v1h-1zM376 194h1v1h-1zM380 194h1v1h-1zM384 194h1v1h-1zM389 194h1v1h-1zM392 194h1v1h-1zM396 194h1v1h-1zM399 194h1v1h-1zM401 194h1v1h-1zM374 195h5v1h-5zM381 195h3v1h-3zM389 195h1v1h-1zM393 195h3v1h-3zM400 195h1v1h-1zM439 215h1v1h-1zM445 215h3v1h-3zM449 215h5v1h-5zM455 215h5v1h-5zM463 215h1v1h-1zM438 216h2v1h-2zM444 216h1v1h-1zM453 216h1v1h-1zM459 216h1v1h-1zM462 216h1v1h-1zM464 216h1v1h-1zM437 217h1v1h-1zM439 217h1v1h-1zM443 217h1v1h-1zM452 217h1v1h-1zM458 217h1v1h-1zM461 217h1v1h-1zM465 217h1v1h-1zM439 218h1v1h-1zM443 218h4v1h-4zM452 218h1v1h-1zM458 218h1v1h-1zM461 218h1v1h-1zM465 218h1v1h-1zM439 219h1v1h-1zM443 219h1v1h-1zM447 219h1v1h-1zM451 219h1v1h-1zM457 219h1v1h-1zM461 219h1v1h-1zM465 219h1v1h-1zM439 220h1v1h-1zM443 220h1v1h-1zM447 220h1v1h-1zM451 220h1v1h-1zM457 220h1v1h-1zM461 220h1v1h-1zM465 220h1v1h-1zM439 221h1v1h-1zM443 221h1v1h-1zM447 221h1v1h-1zM450 221h1v1h-1zM456 221h1v1h-1zM462 221h1v1h-1zM464 221h1v1h-1zM437 222h5v1h-5zM444 222h3v1h-3zM450 222h1v1h-1zM456 222h1v1h-1zM463 222h1v1h-1zM501 243h1v1h-1zM508 243h1v1h-1zM512 243h3v1h-3zM518 243h3v1h-3zM525 243h1v1h-1zM500 244h2v1h-2zM507 244h2v1h-2zM511 244h1v1h-1zM515 244h1v1h-1zM517 244h1v1h-1zM521 244h1v1h-1zM524 244h1v1h-1zM526 244h1v1h-1zM499 245h1v1h-1zM501 245h1v1h-1zM506 245h1v1h-1zM508 245h1v1h-1zM511 245h1v1h-1zM515 245h1v1h-1zM517 245h1v1h-1zM521 245h1v1h-1zM523 245h1v1h-1zM527 245h1v1h-1zM459 246h1v1h-1zM466 246h1v1h-1zM469 246h5v1h-5zM476 246h3v1h-3zM483 246h1v1h-1zM501 246h1v1h-1zM505 246h1v1h-1zM508 246h1v1h-1zM511 246h1v1h-1zM515 246h1v1h-1zM518 246h3v1h-3zM523 246h1v1h-1zM527 246h1v1h-1zM458 247h2v1h-2zM465 247h2v1h-2zM473 247h1v1h-1zM475 247h1v1h-1zM479 247h1v1h-1zM482 247h1v1h-1zM484 247h1v1h-1zM501 247h1v1h-1zM505 247h1v1h-1zM508 247h1v1h-1zM512 247h4v1h-4zM517 247h1v1h-1zM521 247h1v1h-1zM523 247h1v1h-1zM527 247h1v1h-1zM457 248h1v1h-1zM459 248h1v1h-1zM464 248h1v1h-1zM466 248h1v1h-1zM472 248h1v1h-1zM475 248h1v1h-1zM479 248h1v1h-1zM481 248h1v1h-1zM485 248h1v1h-1zM501 248h1v1h-1zM505 248h5v1h-5zM515 248h1v1h-1zM517 248h1v1h-1zM521 248h1v1h-1zM523 248h1v1h-1zM527 248h1v1h-1zM459 249h1v1h-1zM463 249h1v1h-1zM466 249h1v1h-1zM472 249h1v1h-1zM476 249h3v1h-3zM481 249h1v1h-1zM485 249h1v1h-1zM501 249h1v1h-1zM508 249h1v1h-1zM514 249h1v1h-1zM517 249h1v1h-1zM521 249h1v1h-1zM524 249h1v1h-1zM526 249h1v1h-1zM459 250h1v1h-1zM463 250h1v1h-1zM466 250h1v1h-1zM471 250h1v1h-1zM475 250h1v1h-1zM479 250h1v1h-1zM481 250h1v1h-1zM485 250h1v1h-1zM499 250h5v1h-5zM508 250h1v1h-1zM511 250h3v1h-3zM518 250h3v1h-3zM525 250h1v1h-1zM459 251h1v1h-1zM463 251h5v1h-5zM471 251h1v1h-1zM475 251h1v1h-1zM479 251h1v1h-1zM481 251h1v1h-1zM485 251h1v1h-1zM459 252h1v1h-1zM466 252h1v1h-1zM470 252h1v1h-1zM475 252h1v1h-1zM479 252h1v1h-1zM482 252h1v1h-1zM484 252h1v1h-1zM457 253h5v1h-5zM466 253h1v1h-1zM470 253h1v1h-1zM476 253h3v1h-3zM483 253h1v1h-1zM553 277h1v1h-1zM558 277h3v1h-3zM564 277h3v1h-3zM571 277h1v1h-1zM577 277h1v1h-1zM616 277h1v1h-1zM621 277h3v1h-3zM626 277h5v1h-5zM633 277h3v1h-3zM552 278h2v1h-2zM557 278h1v1h-1zM561 278h1v1h-1zM563 278h1v1h-1zM567 278h1v1h-1zM570 278h1v1h-1zM572 278h1v1h-1zM576 278h1v1h-1zM578 278h1v1h-1zM615 278h2v1h-2zM620 278h1v1h-1zM624 278h1v1h-1zM630 278h1v1h-1zM632 278h1v1h-1zM636 278h1v1h-1zM639 278h1v1h-1zM551 279h1v1h-1zM553 279h1v1h-1zM561 279h1v1h-1zM563 279h1v1h-1zM567 279h1v1h-1zM569 279h1v1h-1zM573 279h1v1h-1zM575 279h1v1h-1zM579 279h1v1h-1zM614 279h1v1h-1zM616 279h1v1h-1zM624 279h1v1h-1zM629 279h1v1h-1zM632 279h1v1h-1zM636 279h1v1h-1zM638 279h1v1h-1zM553 280h1v1h-1zM560 280h1v1h-1zM564 280h3v1h-3zM569 280h1v1h-1zM573 280h1v1h-1zM575 280h1v1h-1zM579 280h1v1h-1zM616 280h1v1h-1zM623 280h1v1h-1zM629 280h1v1h-1zM632 280h1v1h-1zM636 280h1v1h-1zM638 280h1v1h-1zM553 281h1v1h-1zM559 281h1v1h-1zM563 281h1v1h-1zM567 281h1v1h-1zM569 281h1v1h-1zM573 281h1v1h-1zM575 281h1v1h-1zM579 281h1v1h-1zM616 281h1v1h-1zM622 281h1v1h-1zM628 281h1v1h-1zM633 281h4v1h-4zM638 281h1v1h-1zM553 282h1v1h-1zM558 282h1v1h-1zM563 282h1v1h-1zM567 282h1v1h-1zM569 282h1v1h-1zM573 282h1v1h-1zM575 282h1v1h-1zM579 282h1v1h-1zM616 282h1v1h-1zM621 282h1v1h-1zM628 282h1v1h-1zM636 282h1v1h-1zM638 282h1v1h-1zM553 283h1v1h-1zM557 283h1v1h-1zM563 283h1v1h-1zM567 283h1v1h-1zM570 283h1v1h-1zM572 283h1v1h-1zM576 283h1v1h-1zM578 283h1v1h-1zM616 283h1v1h-1zM620 283h1v1h-1zM627 283h1v1h-1zM635 283h1v1h-1zM639 283h1v1h-1zM551 284h5v1h-5zM557 284h5v1h-5zM564 284h3v1h-3zM571 284h1v1h-1zM577 284h1v1h-1zM614 284h5v1h-5zM620 284h5v1h-5zM627 284h1v1h-1zM632 284h3v1h-3zM522 305h1v1h-1zM528 305h1v1h-1zM533 305h3v1h-3zM539 305h3v1h-3zM546 305h1v1h-1zM521 306h2v1h-2zM527 306h1v1h-1zM529 306h1v1h-1zM532 306h1v1h-1zM536 306h1v1h-1zM538 306h1v1h-1zM542 306h1v1h-1zM545 306h1v1h-1zM547 306h1v1h-1zM520 307h1v1h-1zM522 307h1v1h-1zM526 307h1v1h-1zM530 307h1v1h-1zM532 307h1v1h-1zM536 307h1v1h-1zM538 307h1v1h-1zM542 307h1v1h-1zM544 307h1v1h-1zM548 307h1v1h-1zM522 308h1v1h-1zM526 308h1v1h-1zM530 308h1v1h-1zM532 308h1v1h-1zM536 308h1v1h-1zM539 308h3v1h-3zM544 308h1v1h-1zM548 308h1v1h-1zM522 309h1v1h-1zM526 309h1v1h-1zM530 309h1v1h-1zM533 309h4v1h-4zM538 309h1v1h-1zM542 309h1v1h-1zM544 309h1v1h-1zM548 309h1v1h-1zM522 310h1v1h-1zM526 310h1v1h-1zM530 310h1v1h-1zM536 310h1v1h-1zM538 310h1v1h-1zM542 310h1v1h-1zM544 310h1v1h-1zM548 310h1v1h-1zM522 311h1v1h-1zM527 311h1v1h-1zM529 311h1v1h-1zM535 311h1v1h-1zM538 311h1v1h-1zM542 311h1v1h-1zM545 311h1v1h-1zM547 311h1v1h-1zM520 312h5v1h-5zM528 312h1v1h-1zM532 312h3v1h-3zM539 312h3v1h-3zM546 312h1v1h-1zM344 411h1v1h-1zM351 411h1v1h-1zM437 411h1v1h-1zM444 411h1v1h-1zM531 411h1v1h-1zM538 411h1v1h-1zM343 412h2v1h-2zM350 412h2v1h-2zM436 412h2v1h-2zM443 412h2v1h-2zM530 412h2v1h-2zM537 412h2v1h-2zM342 413h1v1h-1zM344 413h1v1h-1zM349 413h1v1h-1zM351 413h1v1h-1zM435 413h1v1h-1zM437 413h1v1h-1zM442 413h1v1h-1zM444 413h1v1h-1zM529 413h1v1h-1zM531 413h1v1h-1zM536 413h1v1h-1zM538 413h1v1h-1zM344 414h1v1h-1zM348 414h1v1h-1zM351 414h1v1h-1zM437 414h1v1h-1zM441 414h1v1h-1zM444 414h1v1h-1zM531 414h1v1h-1zM535 414h1v1h-1zM538 414h1v1h-1zM344 415h1v1h-1zM348 415h1v1h-1zM351 415h1v1h-1zM437 415h1v1h-1zM441 415h1v1h-1zM444 415h1v1h-1zM531 415h1v1h-1zM535 415h1v1h-1zM538 415h1v1h-1zM344 416h1v1h-1zM348 416h5v1h-5zM437 416h1v1h-1zM441 416h5v1h-5zM531 416h1v1h-1zM535 416h5v1h-5zM344 417h1v1h-1zM351 417h1v1h-1zM437 417h1v1h-1zM444 417h1v1h-1zM531 417h1v1h-1zM538 417h1v1h-1zM342 418h5v1h-5zM351 418h1v1h-1zM435 418h5v1h-5zM444 418h1v1h-1zM529 418h5v1h-5zM538 418h1v1h-1zM292 420h1v1h-1zM297 420h3v1h-3zM396 420h1v1h-1zM401 420h3v1h-3zM614 420h1v1h-1zM619 420h3v1h-3zM291 421h2v1h-2zM296 421h1v1h-1zM300 421h1v1h-1zM395 421h2v1h-2zM400 421h1v1h-1zM404 421h1v1h-1zM613 421h2v1h-2zM618 421h1v1h-1zM622 421h1v1h-1zM290 422h1v1h-1zM292 422h1v1h-1zM300 422h1v1h-1zM394 422h1v1h-1zM396 422h1v1h-1zM404 422h1v1h-1zM612 422h1v1h-1zM614 422h1v1h-1zM622 422h1v1h-1zM292 423h1v1h-1zM299 423h1v1h-1zM396 423h1v1h-1zM403 423h1v1h-1zM614 423h1v1h-1zM621 423h1v1h-1zM292 424h1v1h-1zM298 424h1v1h-1zM396 424h1v1h-1zM402 424h1v1h-1zM614 424h1v1h-1zM620 424h1v1h-1zM292 425h1v1h-1zM297 425h1v1h-1zM396 425h1v1h-1zM401 425h1v1h-1zM573 425h1v1h-1zM579 425h1v1h-1zM614 425h1v1h-1zM619 425h1v1h-1zM292 426h1v1h-1zM296 426h1v1h-1zM396 426h1v1h-1zM400 426h1v1h-1zM572 426h2v1h-2zM578 426h2v1h-2zM614 426h1v1h-1zM618 426h1v1h-1zM290 427h5v1h-5zM296 427h5v1h-5zM394 427h5v1h-5zM400 427h5v1h-5zM571 427h1v1h-1zM573 427h1v1h-1zM577 427h1v1h-1zM579 427h1v1h-1zM612 427h5v1h-5zM618 427h5v1h-5zM573 428h1v1h-1zM579 428h1v1h-1zM573 429h1v1h-1zM579 429h1v1h-1zM573 430h1v1h-1zM579 430h1v1h-1zM573 431h1v1h-1zM579 431h1v1h-1zM571 432h5v1h-5zM577 432h5v1h-5zM481 434h3v1h-3zM480 435h1v1h-1zM484 435h1v1h-1zM480 436h1v1h-1zM484 436h1v1h-1zM480 437h1v1h-1zM484 437h1v1h-1zM481 438h4v1h-4zM484 439h1v1h-1zM483 440h1v1h-1zM480 441h3v1h-3z" fill="#00007f" shape-rendering="crispEdges"/>
</svg>
</body></html>
